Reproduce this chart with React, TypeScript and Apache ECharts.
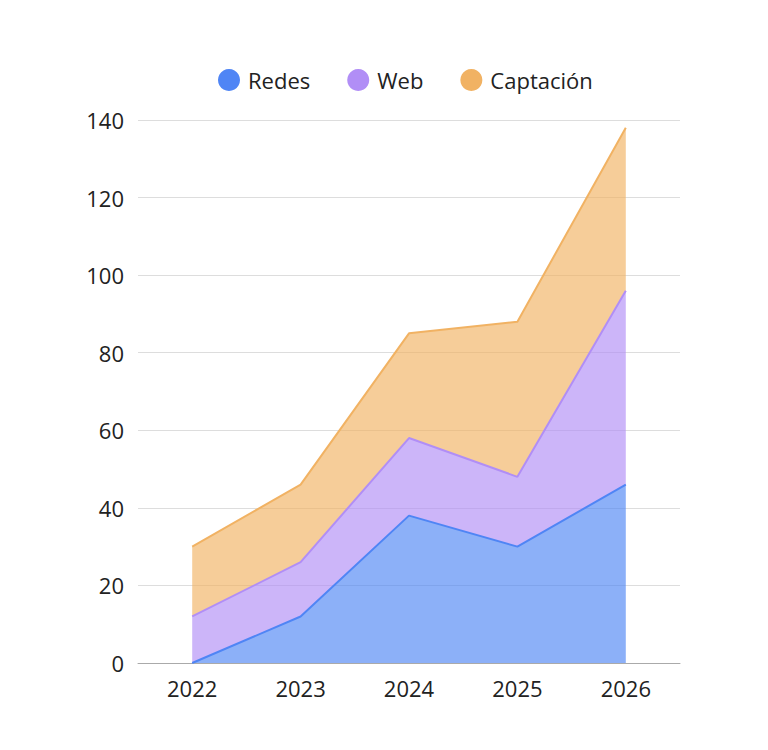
import React, { useEffect, useRef } from "react";
import * as echarts from "echarts";

const years = ["2022", "2023", "2024", "2025", "2026"];
const redes = [0, 12, 38, 30, 46];
const web = [12, 14, 20, 18, 50];
const captacion = [18, 20, 27, 40, 42];

export default function App() {
  const ref = useRef<HTMLDivElement>(null);
  useEffect(() => {
    const chart = echarts.init(ref.current!, null, { renderer: "svg" });
    const mk = (name: string, data: number[], color: string) => ({
      name,
      type: "line",
      stack: "total",
      data,
      showSymbol: false,
      symbol: "circle",
      lineStyle: { color, width: 2 },
      itemStyle: { color },
      areaStyle: { color, opacity: 0.65 },
    });
    chart.setOption({
      animation: false,
      textStyle: { fontFamily: "Open Sans" },
      legend: {
        top: 56,
        left: 205,
        icon: "circle",
        itemWidth: 22,
        itemHeight: 22,
        itemGap: 37,
        textStyle: { fontSize: 22, color: "#222", fontFamily: "Open Sans", padding: [0, 0, 0, 3] },
        data: ["Redes", "Web", "Captación"],
      },
      grid: { left: 130, right: 80, top: 112, bottom: 79, containLabel: false },
      xAxis: {
        type: "category",
        data: years,
        boundaryGap: true,
        axisLine: { lineStyle: { color: "#aaa" } },
        axisTick: { show: false },
        axisLabel: { fontSize: 22, color: "#222", margin: 14, fontFamily: "Open Sans" },
      },
      yAxis: {
        type: "value",
        min: 0,
        max: 140,
        interval: 20,
        axisLine: { show: false },
        axisTick: { show: false },
        axisLabel: { fontSize: 22, color: "#222", margin: 14, fontFamily: "Open Sans" },
        splitLine: { lineStyle: { color: "#ddd" } },
      },
      series: [
        mk("Redes", redes, "#4f85f5"),
        mk("Web", web, "#b18ef6"),
        mk("Captación", captacion, "#f1b263"),
      ],
    });
    return () => chart.dispose();
  }, []);
  return <div ref={ref} style={{ width: 752, height: 734 }} />;
}
